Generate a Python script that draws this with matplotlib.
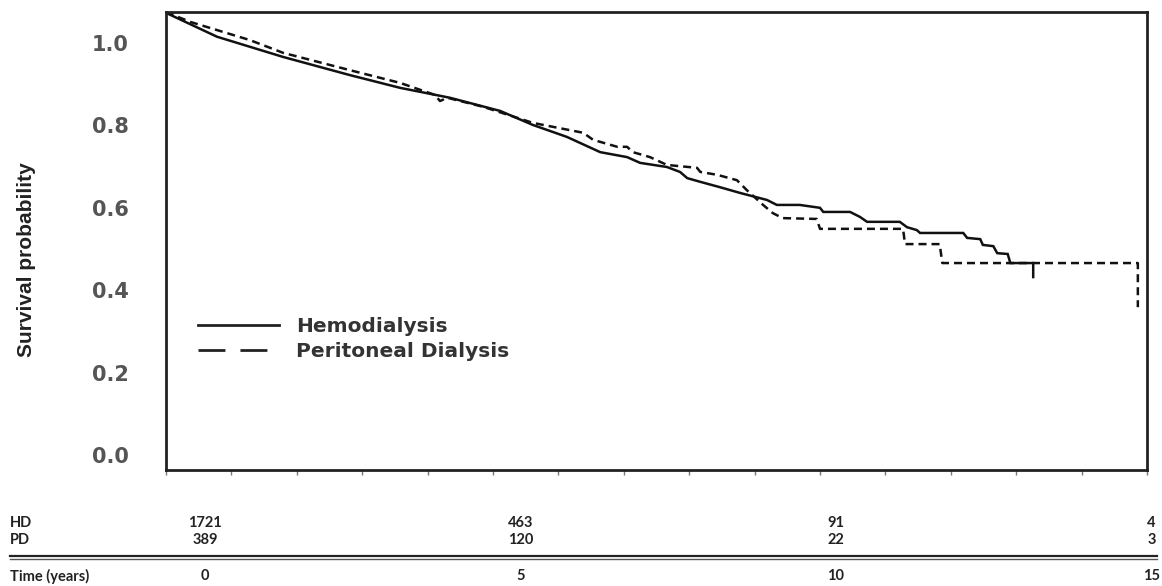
import matplotlib
matplotlib.use("Agg")
import matplotlib.pyplot as plt
from matplotlib.lines import Line2D

# Kaplan-Meier curves (years, survival)
hd_t = [0.0, 0.78, 1.79, 2.81, 3.58, 4.34, 5.11, 5.61, 6.13, 6.64, 7.05, 7.25, 7.66,
        7.86, 7.97, 8.17, 8.47, 8.78, 9.19, 9.34, 9.69, 10.0, 10.05, 10.46, 10.61,
        10.72, 11.22, 11.33, 11.48, 11.53, 12.19, 12.25, 12.45, 12.49, 12.65, 12.71,
        12.87, 12.91, 13.26, 13.26]
hd_s = [1.073, 1.015, 0.966, 0.922, 0.891, 0.867, 0.835, 0.801, 0.772, 0.735, 0.723,
        0.709, 0.699, 0.687, 0.672, 0.663, 0.650, 0.636, 0.619, 0.607, 0.607, 0.600,
        0.590, 0.590, 0.578, 0.566, 0.566, 0.553, 0.546, 0.539, 0.539, 0.527, 0.524,
        0.510, 0.507, 0.490, 0.488, 0.466, 0.466, 0.432]

pd_t = [0.0, 0.37, 1.28, 1.79, 2.81, 3.58, 4.11, 4.19, 4.30, 4.85, 5.61, 6.38, 6.53,
        6.90, 7.05, 7.14, 7.40, 7.66, 8.12, 8.17, 8.43, 8.73, 8.88, 9.13, 9.28, 9.43,
        9.95, 10.0, 11.27, 11.30, 11.83, 11.87, 14.86, 14.86]
pd_s = [1.075, 1.051, 1.007, 0.976, 0.934, 0.903, 0.874, 0.859, 0.867, 0.845, 0.806,
        0.782, 0.765, 0.748, 0.748, 0.735, 0.723, 0.704, 0.697, 0.687, 0.680, 0.667,
        0.643, 0.607, 0.587, 0.575, 0.573, 0.549, 0.549, 0.512, 0.512, 0.466, 0.466,
        0.359]

yticks = [0.0, 0.2, 0.4, 0.6, 0.8, 1.0]
risk_years = [0, 5, 10, 15]
hd_risk = [1721, 463, 91, 4]
pd_risk = [389, 120, 22, 3]

W, H = 1162, 586
fig = plt.figure(figsize=(W / 100, H / 100), dpi=100)
ax = fig.add_axes([166 / W, 1 - 470 / H, (1147 - 166) / W, (470 - 12) / H])

ax.plot(hd_t, hd_s, color="#111111", lw=1.8, solid_joinstyle="miter")
ax.plot(pd_t, pd_s, color="#111111", lw=1.8, linestyle=(0, (3.2, 2.0)))

ax.set_xlim(0, 15)
ax.set_ylim(-0.036, 1.075)
ax.set_xticks(range(16))
ax.set_xticklabels([])
ax.tick_params(axis="x", direction="out", length=3.5, width=1, color="#777777")
ax.set_yticks(yticks)
ax.set_yticklabels(["%.1f" % v for v in yticks])
ax.tick_params(axis="y", length=0, pad=27, labelsize=15, labelcolor="#555555")
for lab in ax.get_yticklabels():
    lab.set_fontweight("bold")
for sp in ax.spines.values():
    sp.set_linewidth(2.0)
    sp.set_color("#222222")

ax.set_ylabel("Survival probability", fontsize=15, fontweight="bold", color="#222222",
              family=["Liberation Sans Narrow", "Liberation Sans", "DejaVu Sans"])
ax.yaxis.set_label_coords(-0.133, 0.46)

handles = [Line2D([], [], color="#222222", lw=2),
           Line2D([], [], color="#222222", lw=2, linestyle=(0, (9.7, 5.4)))]
leg = ax.legend(handles, ["Hemodialysis", "Peritoneal Dialysis"], loc="upper left",
                bbox_to_anchor=(0.0326, 0.335), frameon=False, borderpad=0,
                borderaxespad=0, handlelength=4, handletextpad=0.85,
                labelspacing=0.3, prop={"weight": "bold", "size": 14.5})
for t in leg.get_texts():
    t.set_color("#333333")

# number-at-risk table under the plot
tfont = dict(fontsize=10.5, fontweight="bold", color="#222222",
             family=["Lato", "DejaVu Sans"], va="center")
fig.text(10 / W, 1 - 523 / H, "HD", ha="left", **tfont)
fig.text(10 / W, 1 - 540 / H, "PD", ha="left", **tfont)
fig.text(10 / W, 1 - 576 / H, "Time (years)", ha="left", **tfont)
for yr, h, p in zip(risk_years, hd_risk, pd_risk):
    x = (205 + yr * 63.1) / W
    fig.text(x, 1 - 523 / H, str(h), ha="center", **tfont)
    fig.text(x, 1 - 540 / H, str(p), ha="center", **tfont)
    fig.text(x, 1 - 576 / H, str(yr), ha="center", **tfont)

fig.add_artist(Line2D([10 / W, 1157 / W], [1 - 555.5 / H] * 2, color="#222222", lw=1.6))
fig.add_artist(Line2D([10 / W, 1157 / W], [1 - 558.5 / H] * 2, color="#555555", lw=1.0))

fig.savefig("out.png", dpi=100)
